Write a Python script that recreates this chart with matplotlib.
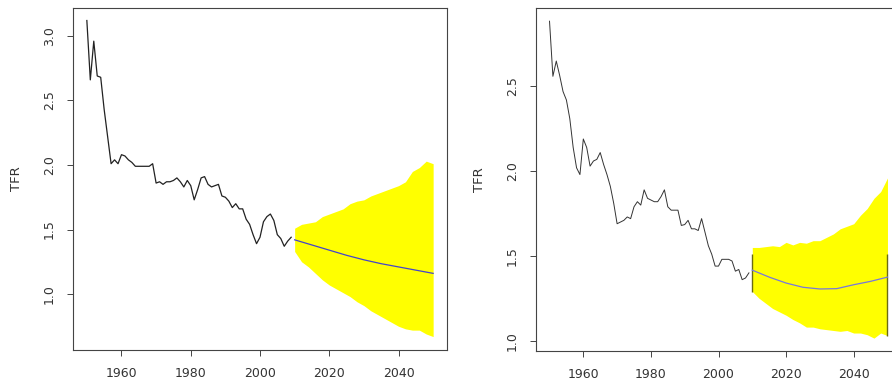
import numpy as np
import matplotlib
matplotlib.use("Agg")
import matplotlib.pyplot as plt

plt.rcParams['font.family'] = ['DejaVu Sans']

# historical TFR, 1950-2009
years_hist = list(range(1950, 2010))
tfr_left = [3.12, 2.66, 2.96, 2.69, 2.68, 2.43, 2.22, 2.01, 2.04, 2.01,
            2.08, 2.07, 2.04, 2.02, 1.99, 1.99, 1.99, 1.99, 1.99, 2.01,
            1.86, 1.87, 1.85, 1.87, 1.87, 1.88, 1.90, 1.87, 1.83, 1.88,
            1.84, 1.73, 1.81, 1.90, 1.91, 1.85, 1.83, 1.84, 1.85, 1.76,
            1.75, 1.72, 1.67, 1.70, 1.66, 1.66, 1.58, 1.54, 1.46, 1.39,
            1.44, 1.56, 1.60, 1.62, 1.57, 1.46, 1.43, 1.37, 1.41, 1.44]
tfr_right = [2.885, 2.56, 2.65, 2.565, 2.47, 2.42, 2.31, 2.14, 2.02, 1.98,
             2.19, 2.14, 2.03, 2.06, 2.07, 2.11, 2.04, 1.98, 1.91, 1.81,
             1.69, 1.70, 1.71, 1.73, 1.72, 1.79, 1.82, 1.80, 1.89, 1.84,
             1.83, 1.82, 1.82, 1.85, 1.89, 1.79, 1.77, 1.77, 1.77, 1.68,
             1.685, 1.71, 1.66, 1.66, 1.65, 1.72, 1.64, 1.56, 1.51, 1.44,
             1.44, 1.48, 1.48, 1.48, 1.47, 1.41, 1.42, 1.36, 1.37, 1.40]

# forecast 2010-2050
years_fc = list(range(2010, 2051, 2))
upper_left = [1.51, 1.54, 1.55, 1.56, 1.60, 1.62, 1.64, 1.66, 1.70, 1.72, 1.73,
              1.76, 1.78, 1.80, 1.82, 1.84, 1.87, 1.95, 1.98, 2.03, 2.01]
lower_left = [1.33, 1.25, 1.21, 1.16, 1.11, 1.07, 1.04, 1.01, 0.98, 0.94, 0.91,
              0.87, 0.84, 0.81, 0.78, 0.75, 0.73, 0.72, 0.72, 0.69, 0.67]
upper_right = [1.55, 1.55, 1.555, 1.56, 1.555, 1.58, 1.565, 1.58, 1.575, 1.59, 1.59,
               1.61, 1.63, 1.66, 1.675, 1.69, 1.74, 1.78, 1.84, 1.88, 1.96]
lower_right = [1.29, 1.25, 1.22, 1.19, 1.17, 1.15, 1.125, 1.105, 1.08, 1.08, 1.07,
               1.065, 1.06, 1.055, 1.06, 1.045, 1.045, 1.035, 1.015, 1.045, 1.03]

years_med = [2010, 2015, 2020, 2025, 2030, 2035, 2040, 2045, 2050]
median_left = [1.42, 1.38, 1.34, 1.30, 1.265, 1.235, 1.21, 1.185, 1.16]
median_right = [1.416, 1.375, 1.34, 1.315, 1.305, 1.307, 1.33, 1.35, 1.375]

fig = plt.figure(figsize=(8.92, 3.81), dpi=100)
ax1 = fig.add_axes([73/892, 31/381, 374/892, 342/381])
ax2 = fig.add_axes([536/892, 30/381, 365/892, 343/381])

txt = '#333333'

def style(ax, yticks, ylim):
    ax.set_xlim(1946, 2054)
    ax.set_ylim(*ylim)
    ax.set_xticks([1960, 1980, 2000, 2020, 2040])
    ax.set_yticks(yticks)
    ax.set_yticklabels(['%.1f' % v for v in yticks], rotation=90, va='center')
    ax.tick_params(axis='both', length=4.5, width=0.7, color='#444444',
                   labelsize=9, labelcolor=txt)
    ax.tick_params(axis='y', pad=8)
    ax.tick_params(axis='x', pad=8)
    for s in ax.spines.values():
        s.set_color('#444444')
        s.set_linewidth(0.8)
    ax.set_ylabel('TFR', fontsize=9.5, color=txt, labelpad=14)

# left panel
ax1.fill_between(years_fc, lower_left, upper_left, color='#ffff00', lw=0)
ax1.plot(years_hist, tfr_left, color='#222222', lw=0.9)
ax1.plot(years_med, median_left, color='#4444cc', lw=0.9)
style(ax1, [1.0, 1.5, 2.0, 2.5, 3.0], (0.566, 3.217))

# right panel
ax2.fill_between(years_fc, lower_right, upper_right, color='#ffff00', lw=0)
ax2.vlines([years_fc[0], years_fc[-1]], [lower_right[0], lower_right[-1]],
           [1.51, 1.51], color='#6b6b10', lw=1.0)
ax2.plot(years_hist, tfr_right, color='#333333', lw=0.7)
ax2.plot(years_med, median_right, color='#7777dd', lw=0.9)
style(ax2, [1.0, 1.5, 2.0, 2.5], (0.939, 2.963))

fig.savefig('out.png', dpi=100)
